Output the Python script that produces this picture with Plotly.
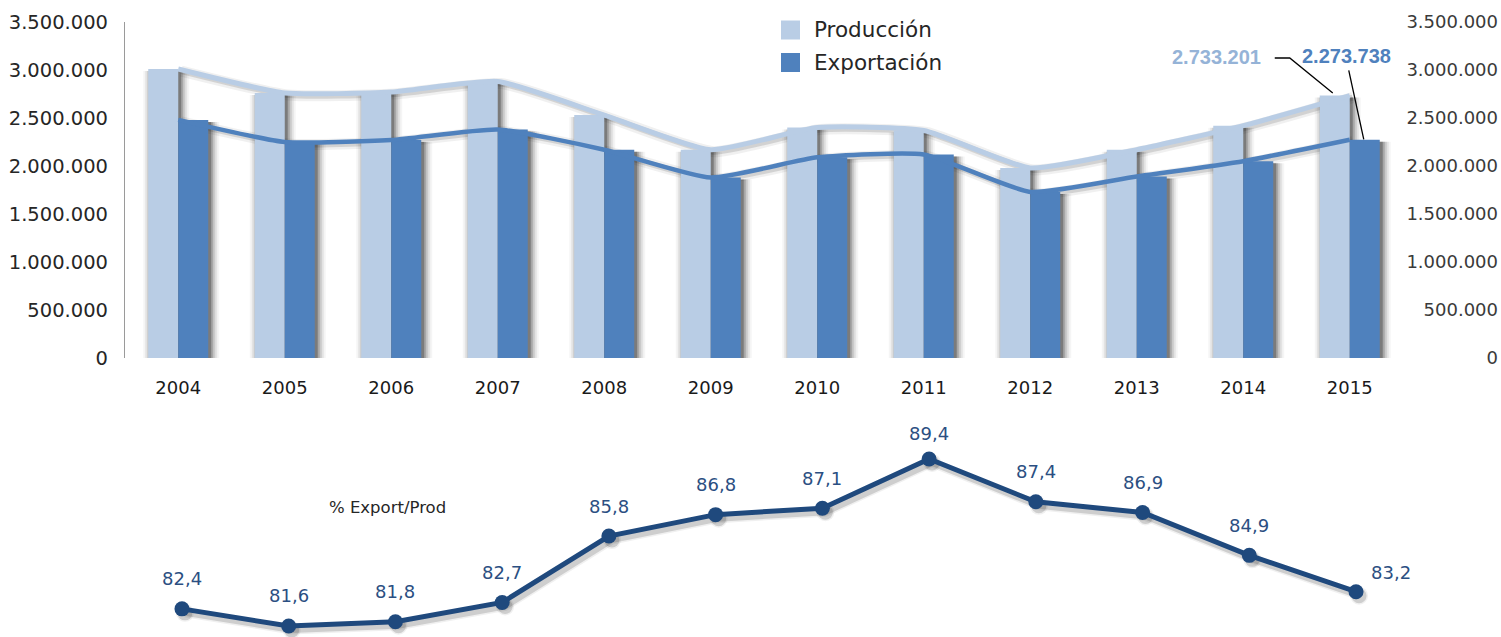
import plotly.graph_objects as go

# ---------------- data ----------------
years = ['2004', '2005', '2006', '2007', '2008', '2009',
         '2010', '2011', '2012', '2013', '2014', '2015']
produccion = [3010000, 2760000, 2770000, 2880000, 2530000, 2170000,
              2400000, 2370000, 1980000, 2170000, 2420000, 2733201]
exportacion = [2480000, 2250000, 2270000, 2380000, 2170000, 1880000,
               2090000, 2120000, 1730000, 1890000, 2050000, 2273738]
pct_export_prod = [82.4, 81.6, 81.8, 82.7, 85.8, 86.8,
                   87.1, 89.4, 87.4, 86.9, 84.9, 83.2]
y_ticks = [0, 500000, 1000000, 1500000, 2000000, 2500000, 3000000, 3500000]

# ---------------- geometry helpers (pixels -> paper) ----------------
W, H = 1501, 637
def fx(px):
    return px / W
def fy(py):
    return 1 - py / H

LIGHT = '#b9cde5'
DARK = '#4f81bd'
NAVY = '#1f497d'
FONT = 'DejaVu Sans'

# top panel
X0, X1 = 125, 1403
SLOT = (X1 - X0) / len(years)
Y_TOP, Y_BOT = 22, 358
YMAX = 3500000
KY = YMAX / (Y_BOT - Y_TOP)
BW = 30 / SLOT
SX, SY = 3, 2  # shadow shift (px)

# bottom panel
XB0, XB1 = 128.6, 1409.4
SLOTB = (XB1 - XB0) / len(years)
YB_TOP, YB_BOT = 420, 637
RB0, RB1 = 81.086, 91.22
KB = (RB1 - RB0) / (YB_BOT - YB_TOP)
SBX, SBY = 3, 4

idx = list(range(len(years)))
n = len(years)
last = n - 1
fig = go.Figure()

# ---------- top shadows (axes x / y, shifted) ----------
for e_px, a in [(0, 0.26), (2, 0.17), (4, 0.11), (6, 0.07), (8, 0.04)]:
    e = e_px / SLOT
    fig.add_trace(go.Bar(x=years, y=produccion, offset=-BW - e, width=BW + 2 * e,
                         marker=dict(color=f'rgba(0,0,0,{a})', line=dict(width=0)),
                         xaxis='x', yaxis='y', showlegend=False, hoverinfo='skip'))
    fig.add_trace(go.Bar(x=years, y=exportacion, offset=-e, width=BW + 2 * e,
                         marker=dict(color=f'rgba(0,0,0,{a})', line=dict(width=0)),
                         xaxis='x', yaxis='y', showlegend=False, hoverinfo='skip'))
for w, a in [(6, 0.12), (11, 0.06)]:
    for vals in (produccion, exportacion):
        fig.add_trace(go.Scatter(x=years, y=vals, mode='lines',
                                 line=dict(color=f'rgba(0,0,0,{a})', width=w,
                                           shape='spline', smoothing=0.5),
                                 xaxis='x', yaxis='y', showlegend=False, hoverinfo='skip'))

# ---------- top real marks (x2 / y2) ----------
fig.add_trace(go.Bar(x=years, y=produccion, offset=-BW, width=BW, name='Producción',
                     marker=dict(color=LIGHT, line=dict(width=0)),
                     xaxis='x2', yaxis='y2', showlegend=False))
fig.add_trace(go.Bar(x=years, y=exportacion, offset=0, width=BW, name='Exportación',
                     marker=dict(color=DARK, line=dict(width=0)),
                     xaxis='x2', yaxis='y2', showlegend=False))
fig.add_trace(go.Scatter(x=years, y=produccion, mode='lines',
                         line=dict(color=LIGHT, width=5, shape='spline', smoothing=0.5),
                         xaxis='x2', yaxis='y2', showlegend=False, hoverinfo='skip'))
fig.add_trace(go.Scatter(x=years, y=exportacion, mode='lines',
                         line=dict(color=DARK, width=4.5, shape='spline', smoothing=0.5),
                         xaxis='x2', yaxis='y2', showlegend=False, hoverinfo='skip'))
# invisible carrier for right-hand labels axis
fig.add_trace(go.Scatter(x=years, y=produccion, mode='markers',
                         marker=dict(opacity=0), xaxis='x2', yaxis='y3',
                         showlegend=False, hoverinfo='skip'))

# ---------- bottom shadow (x4 / y5) ----------
for w, ms, a in [(6, 15, 0.14), (9, 18, 0.06)]:
    fig.add_trace(go.Scatter(x=years, y=pct_export_prod, mode='lines+markers',
                             line=dict(color=f'rgba(0,0,0,{a})', width=w),
                             marker=dict(color=f'rgba(0,0,0,{a})', size=ms),
                             xaxis='x4', yaxis='y5', showlegend=False, hoverinfo='skip'))
# ---------- bottom real (x5 / y6) ----------
fig.add_trace(go.Scatter(x=years, y=pct_export_prod, mode='lines+markers',
                         line=dict(color=NAVY, width=5),
                         marker=dict(color=NAVY, size=15),
                         xaxis='x5', yaxis='y6', showlegend=False))

annotations = []
shapes = []
imax = pct_export_prod.index(max(pct_export_prod))
for i, v in zip(idx, pct_export_prod):
    txt = f'{v:.1f}'.replace('.', ',')
    if i == last:
        xs, ys = 35, 19
    elif i == imax:
        xs, ys = 0, 25
    else:
        xs, ys = 0, 30
    annotations.append(dict(x=i, y=v, xref='x5', yref='y6', text=txt, showarrow=False,
                            xanchor='center', yanchor='middle',
                            xshift=xs, yshift=ys,
                            font=dict(family=FONT, size=18, color='#2b4f82')))

# value call-outs for 2015 (text + leader lines anchored at the data points)
annotations.append(dict(x=last, y=produccion[-1], xref='x2', yref='y2',
                        text='<b>' + f'{produccion[-1]:,}'.replace(',', '.') + '</b>',
                        showarrow=False, xanchor='center', yanchor='middle',
                        xshift=-133, yshift=38.6,
                        font=dict(family='Liberation Sans', size=20, color='#95b3d7')))
annotations.append(dict(x=last, y=exportacion[-1], xref='x2', yref='y2',
                        text='<b>' + f'{exportacion[-1]:,}'.replace(',', '.') + '</b>',
                        showarrow=False, xanchor='center', yanchor='middle',
                        xshift=-3, yshift=83.4,
                        font=dict(family='Liberation Sans', size=20, color=DARK)))
shapes.append(dict(type='path', xref='x2', yref='y2', xsizemode='pixel', ysizemode='pixel',
                   xanchor=last, yanchor=produccion[-1],
                   path='M-75,37.6 L-60,37.6 L-17,2.6',
                   line=dict(color='#000000', width=1.3)))
shapes.append(dict(type='path', xref='x2', yref='y2', xsizemode='pixel', ysizemode='pixel',
                   xanchor=last, yanchor=exportacion[-1],
                   path='M-1,69.4 L14,0.4',
                   line=dict(color='#000000', width=1.3)))

# legend (manual)
for (name, col, cy) in [('Producción', LIGHT, 30), ('Exportación', DARK, 62.5)]:
    shapes.append(dict(type='rect', xref='paper', yref='paper',
                       x0=fx(781), x1=fx(800), y0=fy(cy + 9.5), y1=fy(cy - 9.5),
                       fillcolor=col, line=dict(width=0)))
    annotations.append(dict(x=fx(812), y=fy(cy), xref='paper', yref='paper',
                            xanchor='left', yanchor='middle', text=name, showarrow=False,
                            font=dict(family=FONT, size=21.5, color='#262626')))

annotations.append(dict(x=fx(387), y=fy(507), xref='paper', yref='paper',
                        xanchor='center', yanchor='middle',
                        text='% Export/Prod', showarrow=False,
                        font=dict(family=FONT, size=16.5, color='#262626')))

top_xdom = [fx(X0), fx(X1)]
top_ydom = [fy(Y_BOT), fy(Y_TOP)]
bot_xdom = [fx(XB0), fx(XB1)]
bot_ydom = [fy(YB_BOT), fy(YB_TOP)]

fig.update_layout(
    template='none',
    width=W, height=H,
    margin=dict(l=0, r=0, t=0, b=0, pad=0, autoexpand=False),
    paper_bgcolor='white', plot_bgcolor='rgba(0,0,0,0)',
    barmode='overlay',
    separators=',.',
    showlegend=False,
    font=dict(family=FONT, color='#262626'),
    xaxis=dict(domain=top_xdom, anchor='y', type='category', visible=False,
               automargin=False,
               range=[-0.5 - SX / SLOT, n - 0.5 - SX / SLOT]),
    yaxis=dict(domain=top_ydom, anchor='x', visible=False, automargin=False,
               range=[SY * KY, YMAX + SY * KY]),
    xaxis2=dict(overlaying='x', anchor='y2', type='category', range=[-0.5, n - 0.5],
                showline=False, showgrid=False, zeroline=False, ticks='',
                automargin=False, ticklabelstandoff=17,
                tickfont=dict(family=FONT, size=18, color='#1a1a1a')),
    yaxis2=dict(overlaying='y', anchor='x2', side='left', range=[0, YMAX],
                tickvals=y_ticks, tickformat=',d', showgrid=False, zeroline=False,
                showline=True, linecolor='#9a9a9a', linewidth=1.2, ticks='',
                automargin=False, ticklabelstandoff=12,
                tickfont=dict(family=FONT, size=19.5, color='#262626')),
    yaxis3=dict(overlaying='y', anchor='free', position=0.998, side='left',
                range=[0, YMAX], tickvals=y_ticks, tickformat=',d',
                showgrid=False, zeroline=False, showline=False, ticks='',
                automargin=False,
                tickfont=dict(family=FONT, size=18, color='#3a3a3a')),
    xaxis4=dict(domain=bot_xdom, anchor='y5', type='category', visible=False,
                automargin=False,
                range=[-0.5 - SBX / SLOTB, n - 0.5 - SBX / SLOTB]),
    yaxis5=dict(domain=bot_ydom, anchor='x4', visible=False, automargin=False,
                range=[RB0 + SBY * KB, RB1 + SBY * KB]),
    xaxis5=dict(overlaying='x4', anchor='y6', type='category', visible=False,
                automargin=False, range=[-0.5, n - 0.5]),
    yaxis6=dict(overlaying='y5', anchor='x5', visible=False, automargin=False,
                range=[RB0, RB1]),
    annotations=annotations,
    shapes=shapes,
)

fig.write_html('out.html',
               config={'displayModeBar': False},
               post_script="document.body.style.margin='0';"
                           "document.body.style.overflow='hidden';")
